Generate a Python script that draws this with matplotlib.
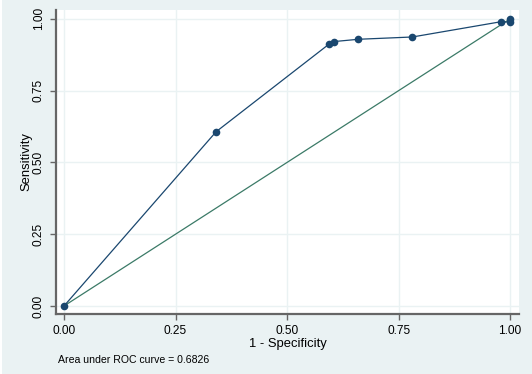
import matplotlib
matplotlib.use("Agg")
import matplotlib.pyplot as plt
from matplotlib.patches import Rectangle

fpr = [0.0, 0.341, 0.594, 0.605, 0.660, 0.781, 0.979, 1.0, 1.0]
tpr = [0.0, 0.607, 0.912, 0.921, 0.929, 0.937, 0.990, 0.989, 1.0]
ref = [0.0, 1.0]
ticks = [0.0, 0.25, 0.5, 0.75, 1.0]
tick_labels = ["0.00", "0.25", "0.50", "0.75", "1.00"]
auc_text = "Area under ROC curve = 0.6826"

plt.rcParams['font.family'] = ['Liberation Sans', 'DejaVu Sans']

bg = '#EAF2F3'
fig = plt.figure(figsize=(5.32, 3.74), dpi=100, facecolor=bg)
fig.patches.append(Rectangle((0, 0), 2/532, 1, transform=fig.transFigure,
                             facecolor='white', edgecolor='none'))
ax = fig.add_axes([56/532, 1-314/374, (519-56)/532, (314-10)/374])
ax.set_facecolor('white')

ax.plot(ref, ref, color='#3B7A67', lw=0.9, zorder=2)
ax.plot(fpr, tpr, color='#1A476F', lw=0.9, marker='o', markersize=5.5,
        markeredgewidth=0, zorder=3)

ax.set_xlim(-0.018, 1.02)
ax.set_ylim(-0.028, 1.031)
ax.set_xticks(ticks)
ax.set_xticklabels(tick_labels)
ax.set_yticks(ticks)
ax.set_yticklabels(tick_labels, rotation=90, va='center')
ax.grid(True, color=bg, lw=1.0, zorder=0)
ax.set_axisbelow(True)

for s in ['top', 'right']:
    ax.spines[s].set_visible(False)
for s in ['left', 'bottom']:
    ax.spines[s].set_color('#666666')
    ax.spines[s].set_linewidth(1.6)
ax.tick_params(direction='out', length=4, width=1, color='#666666',
               labelsize=8.6, pad=4)

ax.set_xlabel('1 - Specificity', fontsize=9.4, labelpad=0.5)
ax.set_ylabel('Sensitivity', fontsize=9.4, labelpad=0.5)

fig.text(58/532, 1-360/374, auc_text, fontsize=7.6, va='center', ha='left')

fig.savefig('out.png', dpi=100, facecolor=bg)
